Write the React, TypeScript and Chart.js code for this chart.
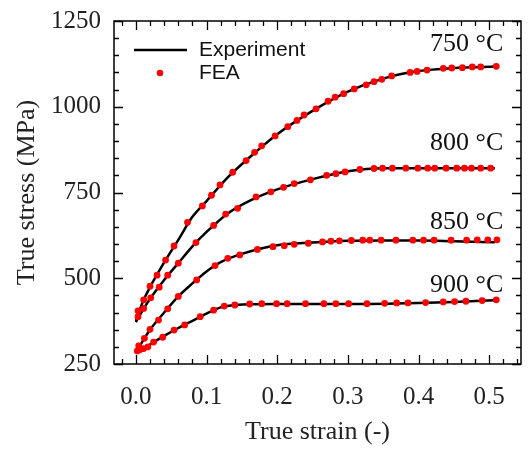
import React, { useEffect, useRef } from "react";
import { Chart, registerables } from "chart.js";
Chart.register(...registerables);

// ---- data ----
const xTicks = [0, 0.1, 0.2, 0.3, 0.4, 0.5];
const yTicks = [250, 500, 750, 1000, 1250];
const xMinorStep = 0.02;
const yMinorStep = 50;

const tempLabels = ["750 °C", "800 °C", "850 °C", "900 °C"];
const tempLabelX = 0.52;
const tempLabelY = [1183, 894, 664, 480];

const exp750X = [0, 0.01, 0.02, 0.04, 0.06, 0.08, 0.1, 0.13, 0.16, 0.2, 0.25, 0.3, 0.35, 0.4, 0.45, 0.51];
const exp750Y = [375, 432, 474, 546, 612, 679, 725, 794, 851, 920, 988, 1044, 1082, 1104, 1113, 1117];
const exp800X = [0, 0.01, 0.02, 0.04, 0.06, 0.08, 0.1, 0.13, 0.16, 0.2, 0.25, 0.3, 0.35, 0.4, 0.45, 0.508];
const exp800Y = [372, 408, 440, 495, 544, 593, 635, 689, 725, 759, 789, 812, 821, 821, 821, 821];
const exp850X = [0, 0.01, 0.02, 0.04, 0.06, 0.08, 0.1, 0.12, 0.15, 0.2, 0.25, 0.3, 0.35, 0.4, 0.45, 0.508];
const exp850Y = [282, 318, 350, 400, 447, 485, 520, 547, 571, 596, 604, 609, 610, 610, 608, 605];
const exp900X = [0, 0.01, 0.02, 0.04, 0.06, 0.08, 0.1, 0.12, 0.14, 0.2, 0.3, 0.4, 0.45, 0.508];
const exp900Y = [282, 293, 307, 332, 355, 376, 397, 415, 422, 425, 425, 428, 431, 436];

const fea750X = [0.003, 0.011, 0.02, 0.03, 0.042, 0.054, 0.073, 0.094, 0.107, 0.119, 0.137, 0.156, 0.168, 0.178, 0.197, 0.215, 0.228, 0.238, 0.255, 0.272, 0.282, 0.294, 0.309, 0.326, 0.337, 0.348, 0.362, 0.388, 0.398, 0.412, 0.435, 0.447, 0.462, 0.476, 0.488, 0.51];
const fea750Y = [405, 437, 477, 509, 553, 594, 663, 711, 742, 772, 809, 843, 867, 886, 915, 942, 960, 976, 994, 1016, 1028, 1038, 1052, 1064, 1073, 1080, 1090, 1100, 1103, 1107, 1112, 1113, 1114, 1116, 1116, 1118];
const fea800X = [0.003, 0.011, 0.021, 0.033, 0.045, 0.06, 0.085, 0.11, 0.127, 0.144, 0.17, 0.191, 0.209, 0.224, 0.247, 0.27, 0.283, 0.296, 0.317, 0.337, 0.349, 0.363, 0.382, 0.399, 0.413, 0.423, 0.439, 0.454, 0.465, 0.475, 0.488, 0.502];
const fea800Y = [388, 412, 443, 474, 509, 544, 604, 654, 687, 704, 737, 752, 765, 776, 787, 800, 805, 810, 817, 820, 821, 821, 821, 821, 821, 821, 821, 821, 821, 821, 821, 821];
const fea850X = [0.004, 0.012, 0.02, 0.032, 0.045, 0.06, 0.086, 0.112, 0.13, 0.147, 0.172, 0.194, 0.21, 0.224, 0.244, 0.264, 0.276, 0.288, 0.305, 0.321, 0.331, 0.347, 0.368, 0.392, 0.407, 0.422, 0.446, 0.468, 0.483, 0.498, 0.511];
const fea850Y = [303, 325, 351, 378, 411, 447, 495, 537, 558, 568, 584, 592, 595, 599, 602, 606, 608, 609, 610, 611, 611, 611, 611, 611, 611, 611, 611, 611, 612, 612, 612];
const fea900X = [0.002, 0.006, 0.011, 0.017, 0.025, 0.038, 0.054, 0.069, 0.091, 0.11, 0.125, 0.14, 0.161, 0.178, 0.199, 0.214, 0.24, 0.266, 0.283, 0.301, 0.327, 0.352, 0.369, 0.385, 0.41, 0.435, 0.451, 0.467, 0.49, 0.51];
const fea900Y = [288, 292, 295, 300, 314, 328, 349, 364, 388, 407, 419, 422, 425, 426, 426, 426, 426, 426, 426, 426, 426, 427, 428, 428, 429, 431, 432, 433, 435, 437];

const legendLabels = ["Experiment", "FEA"];

const toPts = (xs: number[], ys: number[]) => xs.map((x, i) => ({ x, y: ys[i] }));

const SERIF = "'Liberation Serif', 'Times New Roman', serif";
const SANS = "'Liberation Sans', Arial, sans-serif";

const framePlugin = {
  id: "frameTicks",
  afterDraw(chart: any) {
    const { ctx, chartArea, scales } = chart;
    const { left, right, top, bottom } = chartArea;
    const x = scales.x;
    const y = scales.y;
    ctx.save();
    ctx.strokeStyle = "#000";
    ctx.lineWidth = 1.5;
    ctx.strokeRect(left, top, right - left, bottom - top);
    ctx.lineWidth = 1.3;
    ctx.beginPath();
    const nx0 = Math.ceil(x.min / xMinorStep - 1e-9);
    const nx1 = Math.floor(x.max / xMinorStep + 1e-9);
    for (let i = nx0; i <= nx1; i++) {
      const v = i * xMinorStep;
      const px = Math.round(x.getPixelForValue(v)) + 0.5;
      const major = i % 5 === 0;
      const len = major ? 9 : 5;
      ctx.moveTo(px, bottom);
      ctx.lineTo(px, bottom - len);
      ctx.moveTo(px, top);
      ctx.lineTo(px, top + len);
    }
    for (let v = y.min; v <= y.max + 1e-9; v += yMinorStep) {
      const py = Math.round(y.getPixelForValue(v)) + 0.5;
      const major = yTicks.includes(v);
      const len = major ? 9 : 5;
      ctx.moveTo(left, py);
      ctx.lineTo(left + len, py);
      ctx.moveTo(right, py);
      ctx.lineTo(right - len, py);
    }
    ctx.stroke();

    // temperature labels
    ctx.fillStyle = "#111";
    ctx.font = `26px ${SERIF}`;
    ctx.textAlign = "right";
    ctx.textBaseline = "middle";
    tempLabels.forEach((t, i) => {
      ctx.fillText(t, x.getPixelForValue(tempLabelX), y.getPixelForValue(tempLabelY[i]));
    });

    // legend
    const lx = left + 20;
    const ly1 = top + 29;
    const ly2 = top + 52;
    ctx.strokeStyle = "#000";
    ctx.lineWidth = 2.5;
    ctx.beginPath();
    ctx.moveTo(lx, ly1);
    ctx.lineTo(lx + 53, ly1);
    ctx.stroke();
    ctx.fillStyle = "#ff0000";
    ctx.beginPath();
    ctx.arc(lx + 26, ly2, 3.3, 0, Math.PI * 2);
    ctx.fill();
    ctx.fillStyle = "#111";
    ctx.font = `21px ${SANS}`;
    ctx.textAlign = "left";
    ctx.fillText(legendLabels[0], lx + 65, ly1);
    ctx.fillText(legendLabels[1], lx + 65, ly2);
    ctx.restore();
  },
};

export default function App() {
  const ref = useRef<HTMLCanvasElement>(null);
  useEffect(() => {
    if (!ref.current) return;
    const expStyle = {
      showLine: true,
      borderColor: "#000",
      borderWidth: 2.5,
      pointRadius: 0,
      cubicInterpolationMode: "monotone" as const,
      fill: false,
      order: 1,
    };
    const feaStyle = {
      showLine: false,
      pointRadius: 3.4,
      pointBackgroundColor: "#ff0000",
      pointBorderWidth: 0,
      backgroundColor: "#ff0000",
      borderColor: "#ff0000",
      order: 0,
    };
    const chart = new Chart(ref.current, {
      type: "scatter",
      data: {
        datasets: [
          { label: "Experiment 750", data: toPts(exp750X, exp750Y), ...expStyle },
          { label: "Experiment 800", data: toPts(exp800X, exp800Y), ...expStyle },
          { label: "Experiment 850", data: toPts(exp850X, exp850Y), ...expStyle },
          { label: "Experiment 900", data: toPts(exp900X, exp900Y), ...expStyle },
          { label: "FEA 750", data: toPts(fea750X, fea750Y), ...feaStyle },
          { label: "FEA 800", data: toPts(fea800X, fea800Y), ...feaStyle },
          { label: "FEA 850", data: toPts(fea850X, fea850Y), ...feaStyle },
          { label: "FEA 900", data: toPts(fea900X, fea900Y), ...feaStyle },
        ] as any,
      },
      options: {
        animation: false,
        responsive: false,
        devicePixelRatio: 1,
        layout: { padding: { top: 21, right: 7, left: 0, bottom: 0 } },
        plugins: { legend: { display: false }, tooltip: { enabled: false } },
        scales: {
          x: {
            type: "linear",
            min: -0.031,
            max: 0.545,
            grid: { display: false, drawTicks: false },
            border: { display: false },
            afterBuildTicks: (s: any) => {
              s.ticks = xTicks.map((v) => ({ value: v }));
            },
            afterFit: (s: any) => {
              s.height = 88;
              s.paddingLeft = 0;
              s.paddingRight = 0;
            },
            ticks: {
              autoSkip: false,
              maxRotation: 0,
              padding: 18,
              color: "#222",
              font: { family: SERIF, size: 25 },
              callback: (v: any) => Number(v).toFixed(1),
            },
            title: {
              display: true,
              text: "True strain (-)",
              color: "#222",
              font: { family: SERIF, size: 26 },
              padding: { top: 0, bottom: 4 },
            },
          },
          y: {
            type: "linear",
            min: 250,
            max: 1250,
            grid: { display: false, drawTicks: false },
            border: { display: false },
            afterBuildTicks: (s: any) => {
              s.ticks = yTicks.map((v) => ({ value: v }));
            },
            afterFit: (s: any) => {
              s.width = 114;
              s.paddingTop = 0;
              s.paddingBottom = 0;
            },
            ticks: {
              autoSkip: false,
              padding: 13,
              color: "#222",
              font: { family: SERIF, size: 25 },
              callback: (v: any) => String(v),
            },
            title: {
              display: true,
              text: "True stress (MPa)",
              color: "#222",
              font: { family: SERIF, size: 26 },
              padding: { top: 12, bottom: 0 },
            },
          },
        },
      },
      plugins: [framePlugin],
    });
    return () => chart.destroy();
  }, []);
  return (
    <div style={{ position: "fixed", left: 0, top: 0, width: 528, height: 452, background: "#fff" }}>
      <canvas ref={ref} width={528} height={452} style={{ display: "block" }} />
    </div>
  );
}
